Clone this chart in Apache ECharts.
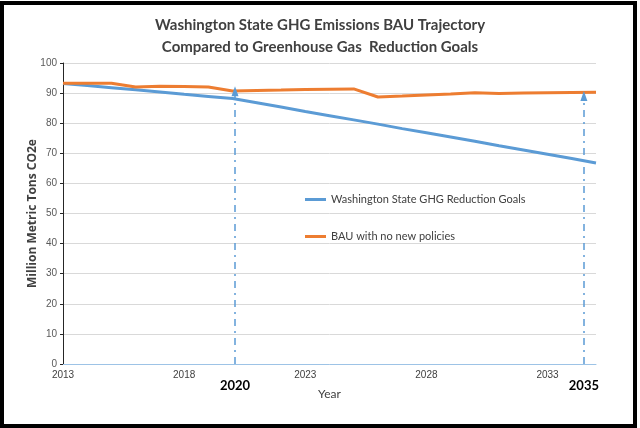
<!DOCTYPE html>
<html>
<head>
<meta charset="utf-8">
<script src="https://cdn.jsdelivr.net/npm/echarts@6/dist/echarts.min.js"></script>
<style>
  html, body { margin: 0; padding: 0; background: #fff; }
  #wrap { position: relative; width: 640px; height: 428px; }
  #chart { width: 640px; height: 428px; }
  #frame {
    position: absolute; left: 0; top: 1px; width: 637px; height: 427px;
    box-sizing: border-box; border: 4px solid #000; pointer-events: none;
  }
</style>
</head>
<body>
<div id="wrap">
  <div id="chart"></div>
  <div id="frame"></div>
</div>
<script>
// years on the x axis
const years = ['2013', '2014', '2015', '2016', '2017', '2018', '2019', '2020', '2021', '2022', '2023', '2024',
  '2025', '2026', '2027', '2028', '2029', '2030', '2031', '2032', '2033', '2034', '2035'];
// Washington State GHG Reduction Goals
const goals = [93.2, 92.5, 91.8, 91.1, 90.4, 89.6, 88.9, 88.2, 86.8, 85.4, 83.9, 82.5,
  81.1, 79.7, 78.2, 76.8, 75.4, 74.0, 72.5, 71.1, 69.7, 68.3, 66.8];
// BAU with no new policies
const bau = [93.3, 93.3, 93.3, 92.0, 92.3, 92.2, 92.0, 90.7, 90.9, 91.0, 91.2, 91.3,
  91.4, 88.7, 89.0, 89.4, 89.7, 90.1, 89.9, 90.0, 90.1, 90.2, 90.3];
// dash-dot arrows: label, position in years, top value
const markerLabels = ['2020', '2035'];
const markerYears = [2020.1, 2034.5];
const markerTop = [90.6, 89];

const blue = '#5b9bd5';
const orange = '#ed7d31';
const tickFont = "'Liberation Sans Narrow', 'Liberation Sans', sans-serif";

const chart = echarts.init(document.getElementById('chart'));
chart.setOption({
  animation: false,
  title: {
    text: 'Washington State GHG Emissions BAU Trajectory\nCompared to Greenhouse Gas  Reduction Goals',
    left: 'center',
    top: 9,
    textStyle: {
      fontFamily: 'Lato', fontSize: 15, fontWeight: 'bold', color: '#404040', lineHeight: 22,
    },
  },
  legend: {
    orient: 'vertical',
    left: 300,
    top: 189,
    itemGap: 26,
    itemWidth: 21,
    itemHeight: 3,
    icon: 'rect',
    textStyle: { fontFamily: 'Lato', fontSize: 11, color: '#404040' },
    data: ['Washington State GHG Reduction Goals', 'BAU with no new policies'],
  },
  grid: { left: 63, right: 44, top: 63, bottom: 64 },
  xAxis: [
    {
      type: 'category',
      data: years,
      boundaryGap: false,
      name: 'Year',
      nameLocation: 'middle',
      nameGap: 24,
      nameTextStyle: { fontFamily: 'Lato', fontSize: 12, color: '#404040' },
      axisLine: { lineStyle: { color: '#9dc3e6', width: 1 } },
      axisTick: { show: false },
      axisLabel: { interval: 4, fontFamily: tickFont, fontSize: 10, color: '#404040', margin: 6 },
    },
    {
      // hidden numeric twin of the year axis, used to place the arrows between years
      type: 'value',
      min: 2013,
      max: 2035,
      show: false,
    },
  ],
  yAxis: {
    type: 'value',
    min: 0,
    max: 100,
    interval: 10,
    name: 'Million Metric Tons CO2e',
    nameLocation: 'middle',
    nameGap: 24,
    nameMoveOverlap: false,
    nameTextStyle: { fontFamily: 'Open Sans', fontSize: 12, fontWeight: 'bold', color: '#404040' },
    axisLine: { show: true, lineStyle: { color: '#262626', width: 1 } },
    axisTick: { show: true, length: 3, lineStyle: { color: '#262626' } },
    axisLabel: { fontFamily: tickFont, fontSize: 10, color: '#595959', margin: 6 },
    splitLine: { lineStyle: { color: '#d9d9d9', width: 1 } },
  },
  series: [
    {
      name: 'Washington State GHG Reduction Goals',
      type: 'line',
      data: goals,
      symbol: 'none',
      color: blue,
      lineStyle: { width: 3, color: blue },
    },
    {
      name: 'BAU with no new policies',
      type: 'line',
      data: bau,
      symbol: 'none',
      color: orange,
      lineStyle: { width: 3, color: orange },
    },
    {
      name: 'markers',
      type: 'line',
      xAxisIndex: 1,
      data: [],
      color: blue,
      markLine: {
        silent: true,
        symbol: ['none', 'triangle'],
        symbolSize: [7, 10],
        itemStyle: { color: blue },
        lineStyle: { color: blue, width: 1.5, opacity: 1, type: [7, 5, 2, 5] },
        label: {
          position: 'start',
          distance: 15,
          fontFamily: 'Lato',
          fontSize: 13,
          fontWeight: 'bold',
          color: '#000',
        },
        data: markerYears.map((x, i) => [
          { coord: [x, 0], label: { formatter: markerLabels[i] } },
          { coord: [x, markerTop[i]] },
        ]),
      },
    },
  ],
});
</script>
</body>
</html>
